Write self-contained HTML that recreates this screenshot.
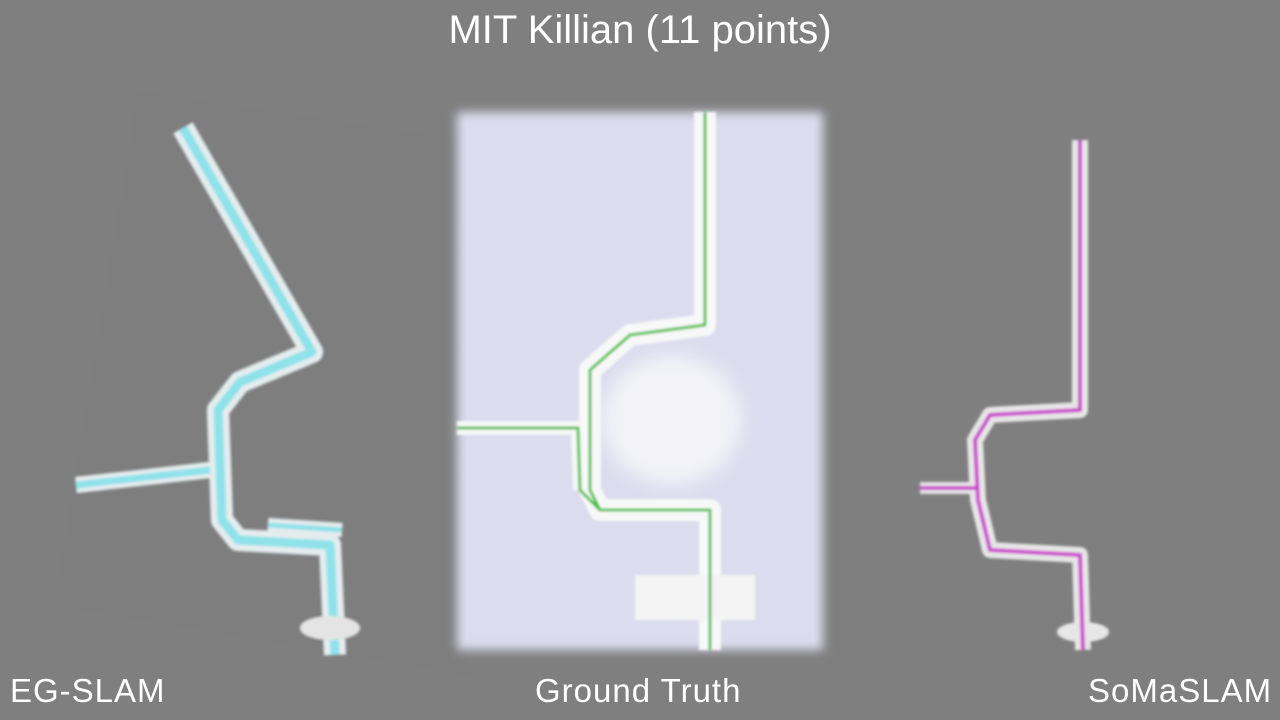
<!DOCTYPE html>
<html><head><meta charset="utf-8"><style>
html,body{margin:0;padding:0;width:1280px;height:720px;overflow:hidden;background:#7f7f7f}
.t{position:absolute;color:#fff;font-family:"Liberation Sans",sans-serif;white-space:nowrap}
</style></head><body>
<div class="t" style="left:0;width:1280px;text-align:center;top:8px;font-size:40px">MIT Killian (11 points)</div>
<svg width="1280" height="720" style="position:absolute;left:0;top:0">
<defs>
<filter id="blur" x="-10%" y="-10%" width="120%" height="120%"><feGaussianBlur stdDeviation="5"/></filter>
<filter id="b2"><feGaussianBlur stdDeviation="1.2"/></filter>
<filter id="b3" x="-50%" y="-50%" width="200%" height="200%"><feGaussianBlur stdDeviation="8"/></filter>
</defs>
<g filter="url(#b2)">
<polygon points="140,92 455,140 470,675 55,605" fill="#7a7a7a" opacity="0.35"/>
<polyline points="183,128 312,352 240,382 218,410 222,520 238,540 330,545 335,655" fill="none" stroke="#e4ecee" stroke-width="22" stroke-linejoin="round"/>
<polyline points="76,485 210,470" fill="none" stroke="#e4ecee" stroke-width="16"/>
<polyline points="268,525 342,530" fill="none" stroke="#e4ecee" stroke-width="14"/>
<polyline points="183,128 312,352 240,382 218,410 222,520 238,540 330,545 335,655" fill="none" stroke="#8fe2ea" stroke-width="9" stroke-linejoin="round"/>
<polyline points="76,485 210,470" fill="none" stroke="#8fe2ea" stroke-width="7"/>
<polyline points="268,525 342,530" fill="none" stroke="#8fe2ea" stroke-width="5"/>
<ellipse cx="330" cy="628" rx="30" ry="12" fill="#e4e4e4"/>
</g>
<g>
<rect x="457" y="112" width="366" height="538" fill="#dcdcee" filter="url(#blur)"/>
<ellipse cx="672" cy="420" rx="70" ry="65" fill="#f2f2f8" filter="url(#b3)"/>
<g filter="url(#b2)">
<polyline points="705,112 705,325 630,335 590,370 590,490 600,510 710,510 710,650" fill="none" stroke="#f8f8f8" stroke-width="22" stroke-linejoin="round"/>
<polyline points="457,428 578,428 580,490" fill="none" stroke="#f8f8f8" stroke-width="14"/>
<rect x="635" y="575" width="120" height="45" fill="#f4f4f4"/>
<polyline points="705,112 705,325 630,335 590,370 590,490 600,510 710,510 710,650" fill="none" stroke="#3cbf3c" stroke-width="3" stroke-linejoin="round"/>
<polyline points="457,428 578,428 580,490 600,510" fill="none" stroke="#3cbf3c" stroke-width="3"/>
</g>
</g>
<g filter="url(#b2)">
<polyline points="1080,140 1080,410 990,415 975,440 978,500 990,550 1080,555 1083,650" fill="none" stroke="#e6e6e6" stroke-width="16" stroke-linejoin="round"/>
<polyline points="920,488 978,488" fill="none" stroke="#e6e6e6" stroke-width="12"/>
<ellipse cx="1083" cy="632" rx="26" ry="10" fill="#e6e6e6"/>
<polyline points="1080,140 1080,410 990,415 975,440 978,500 990,550 1080,555 1083,650" fill="none" stroke="#cc44cc" stroke-width="4" stroke-linejoin="round"/>
<polyline points="920,488 978,488" fill="none" stroke="#cc44cc" stroke-width="4"/>
</g>
</svg>
<div class="t" style="left:10px;top:672px;font-size:33px;letter-spacing:1px">EG-SLAM</div>
<div class="t" style="left:535px;top:672px;font-size:33px;letter-spacing:1px">Ground Truth</div>
<div class="t" style="left:1088px;top:672px;font-size:33px;letter-spacing:1px">SoMaSLAM</div>
</body></html>
